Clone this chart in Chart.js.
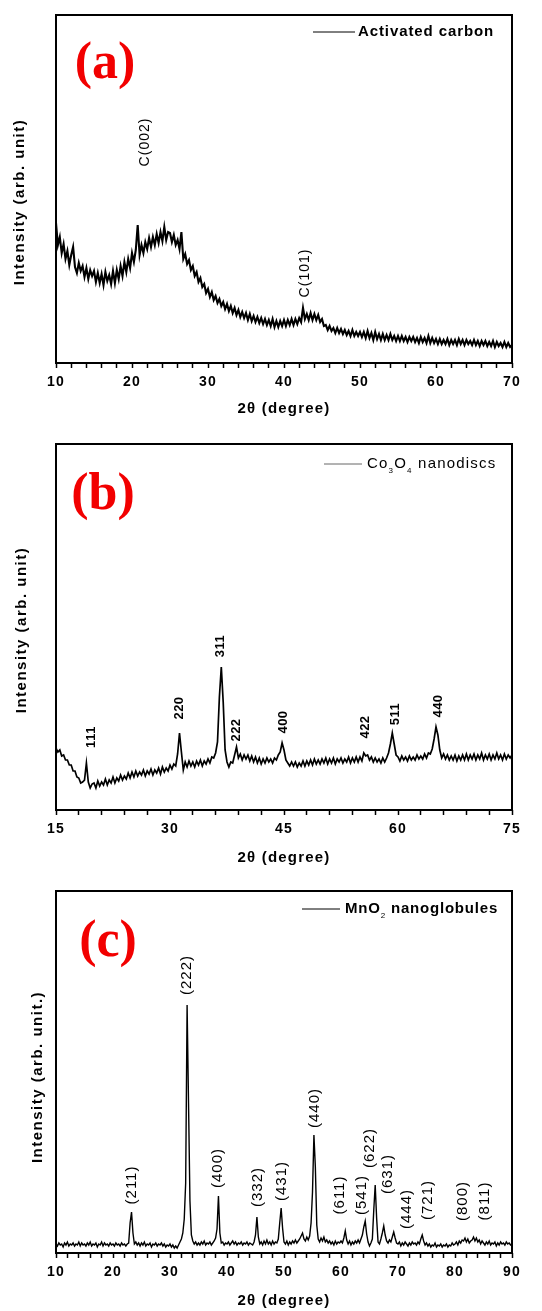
<!DOCTYPE html>
<html>
<head>
<meta charset="utf-8">
<script src="https://cdn.jsdelivr.net/npm/chart.js@4.4.1/dist/chart.umd.min.js"></script>
<style>
  html, body { margin: 0; padding: 0; background: #fff; }
  #wrap { position: relative; width: 542px; height: 1311px; }
  canvas { position: absolute; left: 0; }
</style>
</head>
<body>
<div id="wrap">
  <canvas id="xrdA" width="542" height="430" style="top:0"></canvas>
  <canvas id="xrdB" width="542" height="440" style="top:430px"></canvas>
  <canvas id="xrdC" width="542" height="441" style="top:870px"></canvas>
</div>
<script>
// ---- scan data (2θ grid start/step, intensity in arb. units) ----

// (a) activated carbon, 10-70°
const carbonStart = 10, carbonStep = 0.25;
const carbonIntensity = [
  140, 118, 126, 110, 119, 104, 112, 98, 108, 116, 96, 90, 100, 92, 97, 86, 95, 84, 93, 87,
  92, 81, 90, 80, 89, 78, 91, 82, 88, 79, 92, 80, 93, 84, 97, 87, 101, 91, 104, 95,
  110, 101, 113, 138, 108, 118, 110, 121, 114, 125, 116, 126, 118, 129, 120, 131, 122, 136, 123, 131,
  130, 121, 128, 118, 123, 114, 131, 104, 109, 99, 103, 93, 97, 87, 91, 81, 85, 76, 79, 70,
  74, 66, 71, 63, 67, 60, 64, 57, 61, 54, 59, 52, 57, 50, 55, 48, 53, 46, 51, 45,
  50, 43, 49, 42, 47, 41, 46, 40, 45, 39, 44, 38, 43, 37, 44, 36, 42, 36, 42, 37,
  43, 37, 43, 38, 44, 38, 44, 39, 45, 41, 55, 44, 49, 43, 50, 43, 49, 43, 48, 41,
  44, 37, 38, 33, 37, 32, 35, 30, 35, 30, 34, 29, 33, 28, 32, 27, 33, 27, 31, 27,
  31, 26, 31, 25, 32, 25, 30, 23, 31, 24, 29, 23, 29, 23, 28, 23, 29, 23, 27, 22,
  27, 22, 27, 22, 26, 21, 26, 22, 26, 21, 25, 20, 26, 21, 25, 20, 27, 20, 25, 20,
  24, 19, 24, 19, 23, 19, 24, 18, 23, 19, 23, 18, 24, 19, 23, 18, 23, 19, 22, 18,
  23, 18, 22, 17, 22, 18, 22, 17, 21, 17, 22, 16, 21, 17, 20, 16, 21, 16, 20, 16,
  18
];
const carbonTickLabels = [10, 20, 30, 40, 50, 60, 70];
const carbonPeakNames = ['C(002)', 'C(101)'];
const carbonPeakAngles = [21.7, 42.8];
const carbonPeakLabelY = [221, 90];

// (b) Co3O4 nanodiscs, 15-75°
const cobaltStart = 15, cobaltStep = 0.25;
const cobaltIntensity = [
  62, 58, 60, 54, 55, 50, 50, 45, 45, 39, 39, 33, 32, 27, 28, 30, 47, 28, 22, 26,
  27, 22, 29, 24, 28, 25, 31, 25, 30, 27, 33, 27, 32, 29, 35, 30, 34, 31, 37, 32,
  38, 33, 39, 34, 38, 35, 40, 34, 39, 36, 41, 35, 40, 37, 42, 36, 43, 38, 42, 39,
  45, 41, 46, 44, 56, 77, 58, 40, 48, 43, 49, 44, 48, 43, 49, 45, 50, 44, 49, 46,
  51, 47, 53, 52, 57, 68, 113, 143, 108, 60, 48, 43, 48, 47, 55, 63, 52, 56, 50, 55,
  51, 55, 49, 54, 48, 53, 47, 52, 46, 51, 47, 52, 48, 51, 47, 52, 50, 55, 58, 67,
  60, 50, 47, 44, 48, 44, 48, 43, 47, 44, 49, 44, 49, 45, 50, 45, 51, 46, 50, 46,
  51, 47, 52, 46, 51, 47, 52, 46, 51, 48, 52, 47, 51, 48, 53, 47, 52, 48, 53, 48,
  53, 49, 57, 54, 55, 50, 53, 48, 52, 48, 51, 47, 52, 48, 52, 57, 66, 77, 66, 55,
  53, 49, 54, 50, 53, 49, 54, 50, 53, 50, 55, 51, 54, 51, 56, 52, 57, 56, 61, 71,
  83, 75, 60, 52, 56, 51, 55, 50, 54, 50, 55, 49, 54, 50, 55, 50, 56, 50, 55, 51,
  56, 50, 55, 51, 57, 50, 55, 51, 56, 50, 55, 51, 57, 51, 55, 50, 56, 51, 55, 52,
  55
];
const cobaltTickLabels = [15, 30, 45, 60, 75];
const cobaltPeakNames = ['111', '220', '311', '222', '400', '422', '511', '440'];
const cobaltPeakAngles = [19.6, 31.3, 36.6, 38.7, 44.9, 55.7, 59.6, 65.3];
const cobaltPeakLabelY = [73, 102, 164, 80, 88, 83, 96, 104];

// (c) MnO2 nanoglobules, 10-90°
const manganeseStart = 10, manganeseStep = 0.25;
const manganeseIntensity = [
  9, 7, 10, 8, 9, 6, 10, 8, 11, 7, 9, 8, 10, 7, 9, 8, 11, 7, 10, 8,
  9, 7, 10, 8, 11, 7, 9, 8, 10, 6, 9, 8, 11, 7, 10, 8, 9, 7, 10, 8,
  9, 7, 10, 8, 9, 7, 10, 8, 9, 7, 9, 10, 30, 41, 20, 9, 11, 8, 10, 7,
  10, 8, 11, 7, 9, 8, 10, 6, 9, 8, 10, 7, 9, 8, 10, 7, 9, 6, 8, 7,
  9, 6, 8, 5, 7, 5, 8, 11, 14, 20, 34, 70, 248, 150, 52, 18, 12, 9, 11, 8,
  10, 8, 11, 9, 12, 8, 10, 9, 11, 8, 10, 12, 15, 24, 57, 20, 10, 11, 8, 10,
  9, 11, 8, 10, 12, 9, 11, 8, 10, 9, 11, 8, 10, 9, 11, 8, 10, 9, 8, 11,
  18, 36, 16, 9, 11, 8, 12, 9, 13, 9, 11, 8, 12, 9, 11, 10, 14, 30, 45, 25,
  11, 9, 12, 8, 11, 9, 12, 10, 13, 10, 12, 14, 17, 20, 14, 12, 16, 13, 17, 30,
  61, 118, 86, 28, 14, 11, 15, 12, 16, 11, 13, 10, 12, 9, 11, 8, 12, 9, 11, 10,
  12, 10, 15, 22, 13, 9, 12, 8, 11, 9, 12, 10, 13, 10, 14, 18, 26, 32, 19, 11,
  7, 10, 14, 43, 68, 35, 11, 9, 14, 20, 27, 18, 12, 10, 13, 11, 16, 21, 15, 10,
  9, 11, 7, 10, 8, 11, 9, 7, 10, 8, 11, 9, 10, 8, 11, 9, 14, 18, 12, 8,
  10, 7, 9, 6, 8, 7, 10, 6, 8, 7, 9, 6, 8, 7, 9, 6, 8, 7, 10, 8,
  9, 11, 8, 12, 10, 13, 12, 15, 11, 14, 10, 12, 13, 16, 12, 15, 11, 13, 9, 12,
  10, 8, 11, 9, 12, 8, 10, 9, 11, 7, 10, 8, 11, 9, 10, 8, 11, 9, 10, 8,
  9
];
const manganeseTickLabels = [10, 20, 30, 40, 50, 60, 70, 80, 90];
const manganesePeakNames = ['(211)', '(222)', '(400)', '(332)', '(431)', '(440)', '(611)',
  '(541)', '(622)', '(631)', '(444)', '(721)', '(800)', '(811)'];
const manganesePeakAngles = [23.3, 33.0, 38.4, 45.4, 49.6, 55.4, 59.8, 63.7, 65.1, 68.2, 71.6, 75.3, 81.4, 85.3];
const manganesePeakLabelY = [68, 278, 85, 66, 72, 145, 58, 58, 105, 79, 44, 53, 52, 52];

// ---------------------------------------------------------------

Chart.defaults.color = '#000';
Chart.defaults.font.family = '"Liberation Sans", Arial, sans-serif';

const SANS = '"Liberation Sans", Arial, sans-serif';

function angleGrid(start, step, count) {
  return Array.from({ length: count }, (_, i) => +(start + i * step).toFixed(2));
}

function decorPlugin(p) {
  return {
    id: 'decor',
    beforeDraw(chart) {
      chart.ctx.letterSpacing = '1.2px';
    },
    afterDatasetsDraw(chart) {
      const { ctx, chartArea: a } = chart;
      ctx.save();
      ctx.letterSpacing = '0px';
      ctx.strokeStyle = '#000';
      ctx.lineWidth = 2;
      ctx.strokeRect(a.left, a.top, a.right - a.left, a.bottom - a.top);
      ctx.restore();
    },
    afterDraw(chart) {
      const ctx = chart.ctx;
      const xs = chart.scales.x, ys = chart.scales.y;
      ctx.save();
      ctx.fillStyle = '#000';
      ctx.textAlign = 'center';
      ctx.textBaseline = 'middle';

      // Miller indices above the reflections
      ctx.font = p.peakFont;
      ctx.letterSpacing = p.peakSpacing;
      p.peakNames.forEach((name, i) => {
        ctx.save();
        ctx.translate(xs.getPixelForValue(p.peakAngles[i]), ys.getPixelForValue(p.peakLabelY[i]));
        ctx.rotate(-Math.PI / 2);
        ctx.fillText(name, 0, 0);
        ctx.restore();
      });

      // y axis title
      ctx.font = 'bold 15px ' + SANS;
      ctx.letterSpacing = '1.5px';
      ctx.save();
      ctx.translate(p.yTitlePos[0], p.yTitlePos[1]);
      ctx.rotate(-Math.PI / 2);
      ctx.fillText(p.yTitle, 0, 0);
      ctx.restore();

      // panel letter
      ctx.font = 'bold 52px "Liberation Serif", "Times New Roman", serif';
      ctx.letterSpacing = '0px';
      ctx.fillStyle = '#f20000';
      ctx.textBaseline = 'alphabetic';
      ctx.fillText(p.letter, p.letterPos[0], p.letterPos[1]);

      // legend entry
      const lg = p.legend;
      ctx.strokeStyle = lg.color;
      ctx.lineWidth = 1;
      ctx.beginPath();
      ctx.moveTo(lg.x0, lg.y);
      ctx.lineTo(lg.x1, lg.y);
      ctx.stroke();
      ctx.fillStyle = '#000';
      ctx.textAlign = 'left';
      ctx.textBaseline = 'middle';
      ctx.letterSpacing = lg.spacing;
      let x = lg.textX;
      lg.parts.forEach(part => {
        ctx.font = part.sub ? '8px ' + SANS : lg.font;
        ctx.fillText(part.t, x, part.sub ? lg.y + 7 : lg.y);
        x += ctx.measureText(part.t).width;
      });

      ctx.restore();
      ctx.letterSpacing = '0px';
    }
  };
}

function makePanel(p) {
  const angles = angleGrid(p.start, p.step, p.intensity.length);
  const tickValues = [];
  for (let v = p.xMin; v <= p.xMax + 1e-9; v += p.tickStep) tickValues.push(v);

  return new Chart(document.getElementById(p.id), {
    type: 'line',
    data: {
      labels: angles,
      datasets: [{
        label: p.legend.parts.map(s => s.t).join(''),
        data: p.intensity,
        borderColor: '#000',
        borderWidth: p.lineWidth,
        pointRadius: 0,
        tension: 0,
        fill: false
      }]
    },
    options: {
      responsive: false,
      animation: false,
      devicePixelRatio: 1,
      layout: { padding: { top: p.padTop, right: 30, left: 0, bottom: 0 } },
      plugins: {
        legend: { display: false },
        tooltip: { enabled: false }
      },
      scales: {
        x: {
          type: 'linear',
          min: p.xMin,
          max: p.xMax,
          afterBuildTicks: s => { s.ticks = tickValues.map(v => ({ value: v })); },
          afterFit: s => { s.height = p.xAxisHeight; },
          ticks: {
            autoSkip: false,
            maxRotation: 0,
            padding: 6,
            font: { size: 14, weight: 'bold' },
            callback: v => p.tickLabels.includes(Math.round(v)) ? String(Math.round(v)) : ''
          },
          grid: {
            display: true,
            drawOnChartArea: false,
            drawTicks: true,
            tickLength: 5,
            tickColor: '#000',
            tickWidth: 1.5
          },
          border: { display: false },
          title: {
            display: true,
            text: '2θ (degree)',
            font: { size: 15, weight: 'bold' },
            padding: { top: 0, bottom: p.titlePad }
          }
        },
        y: {
          min: 0,
          max: p.yMax,
          afterFit: s => { s.width = 56; },
          ticks: { display: false },
          grid: { display: false },
          border: { display: false }
        }
      }
    },
    plugins: [decorPlugin(p)]
  });
}

makePanel({
  id: 'xrdA', start: carbonStart, step: carbonStep, intensity: carbonIntensity,
  xMin: 10, xMax: 70, tickStep: 2, tickLabels: carbonTickLabels,
  yMax: 348, padTop: 15, xAxisHeight: 67, titlePad: 12, lineWidth: 2.1,
  peakNames: carbonPeakNames, peakAngles: carbonPeakAngles, peakLabelY: carbonPeakLabelY,
  peakFont: '14px ' + SANS, peakSpacing: '1px',
  yTitle: 'Intensity (arb. unit)', yTitlePos: [20, 202],
  letter: '(a)', letterPos: [105, 78],
  legend: {
    x0: 313, x1: 355, y: 32, textX: 358, color: '#000',
    font: 'bold 15px ' + SANS, spacing: '0.9px',
    parts: [{ t: 'Activated carbon' }]
  }
});

makePanel({
  id: 'xrdB', start: cobaltStart, step: cobaltStep, intensity: cobaltIntensity,
  xMin: 15, xMax: 75, tickStep: 3, tickLabels: cobaltTickLabels,
  yMax: 366, padTop: 14, xAxisHeight: 60, titlePad: 3, lineWidth: 1.7,
  peakNames: cobaltPeakNames, peakAngles: cobaltPeakAngles, peakLabelY: cobaltPeakLabelY,
  peakFont: 'bold 13px ' + SANS, peakSpacing: '0.5px',
  yTitle: 'Intensity (arb. unit)', yTitlePos: [22, 200],
  letter: '(b)', letterPos: [103, 79],
  legend: {
    x0: 324, x1: 362, y: 34, textX: 367, color: '#666',
    font: '15px ' + SANS, spacing: '1.2px',
    parts: [{ t: 'Co' }, { t: '3', sub: true }, { t: 'O' }, { t: '4', sub: true }, { t: ' nanodiscs' }]
  }
});

makePanel({
  id: 'xrdC', start: manganeseStart, step: manganeseStep, intensity: manganeseIntensity,
  xMin: 10, xMax: 90, tickStep: 2, tickLabels: manganeseTickLabels,
  yMax: 362, padTop: 21, xAxisHeight: 58, titlePad: 1, lineWidth: 1.4,
  peakNames: manganesePeakNames, peakAngles: manganesePeakAngles, peakLabelY: manganesePeakLabelY,
  peakFont: '15px ' + SANS, peakSpacing: '1px',
  yTitle: 'Intensity (arb. unit.)', yTitlePos: [38, 207],
  letter: '(c)', letterPos: [108, 86],
  legend: {
    x0: 302, x1: 340, y: 39, textX: 345, color: '#000',
    font: 'bold 15px ' + SANS, spacing: '0.8px',
    parts: [{ t: 'MnO' }, { t: '2', sub: true }, { t: ' nanoglobules' }]
  }
});
</script>
</body>
</html>
